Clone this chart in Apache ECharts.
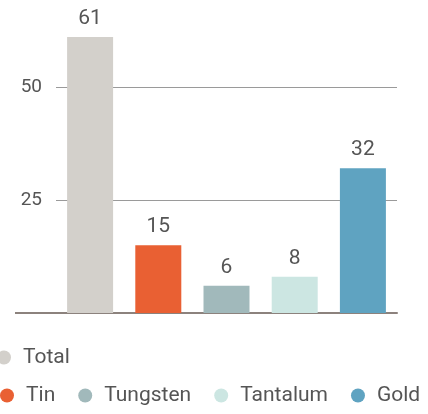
<!DOCTYPE html>
<html>
<head>
<meta charset="utf-8">
<script src="https://cdn.jsdelivr.net/npm/echarts@6/dist/echarts.min.js"></script>
<style>
  html, body { margin: 0; padding: 0; background: #fff; }
  #chart { width: 428px; height: 414px; }
</style>
</head>
<body>
<div id="chart"></div>
<script>
// 类别与数值
var categories = ['Total', 'Tin', 'Tungsten', 'Tantalum', 'Gold']
var values = [61, 15, 6, 8, 32]
var colors = ['#d3d0cb', '#e96033', '#a1b9bb', '#cce6e2', '#5fa3c1']
var yTicks = [25, 50]

var chart = echarts.init(document.getElementById('chart'))

// 每个类别一个系列，这样图例可以显示各自颜色
var series = categories.map(function (name, i) {
  var data = categories.map(function (c, j) { return j === i ? values[i] : null })
  return {
    type: 'bar',
    name: name,
    stack: 'all',
    barWidth: 46,
    itemStyle: { color: colors[i] },
    label: {
      show: true,
      position: 'top',
      distance: 8,
      color: '#555',
      fontFamily: 'Roboto',
      fontSize: 21
    },
    data: data
  }
})

var legendText = { color: '#555', fontFamily: 'Roboto', fontSize: 21, padding: [0, 0, 0, 7] }

chart.setOption({
  backgroundColor: '#fff',
  animation: false,
  grid: {
    left: 56,
    right: 31,
    top: 19,
    bottom: 101
  },
  legend: [{
    data: ['Total'],
    left: -3,
    top: 347,
    padding: 0,
    icon: 'circle',
    itemWidth: 14,
    itemHeight: 14,
    textStyle: legendText
  }, {
    data: ['Tin', 'Tungsten', 'Tantalum', 'Gold'],
    left: 0,
    top: 385,
    padding: 0,
    icon: 'circle',
    itemWidth: 14,
    itemHeight: 14,
    itemGap: 23,
    textStyle: legendText
  }],
  xAxis: {
    type: 'category',
    data: categories,
    axisLine: { lineStyle: { color: '#8c827d', width: 2 } },
    axisTick: { show: false },
    axisLabel: { show: false },
    splitLine: { show: false }
  },
  yAxis: {
    type: 'value',
    min: 0,
    max: 65,
    interval: 25,
    axisLine: { show: false },
    axisTick: { show: false },
    axisLabel: {
      color: '#555',
      fontFamily: 'Roboto',
      fontSize: 19,
      margin: 14,
      showMinLabel: false,
      showMaxLabel: false,
      formatter: function (v) { return yTicks.indexOf(v) >= 0 ? String(v) : '' }
    },
    splitLine: {
      show: true,
      showMinLine: false,
      showMaxLine: false,
      lineStyle: { color: '#9a9a9a', width: 1 }
    }
  },
  graphic: [{
    type: 'line',
    shape: { x1: 15, y1: 313, x2: 57, y2: 313 },
    style: { stroke: '#8c827d', lineWidth: 2 }
  }],
  series: series
})
</script>
</body>
</html>
